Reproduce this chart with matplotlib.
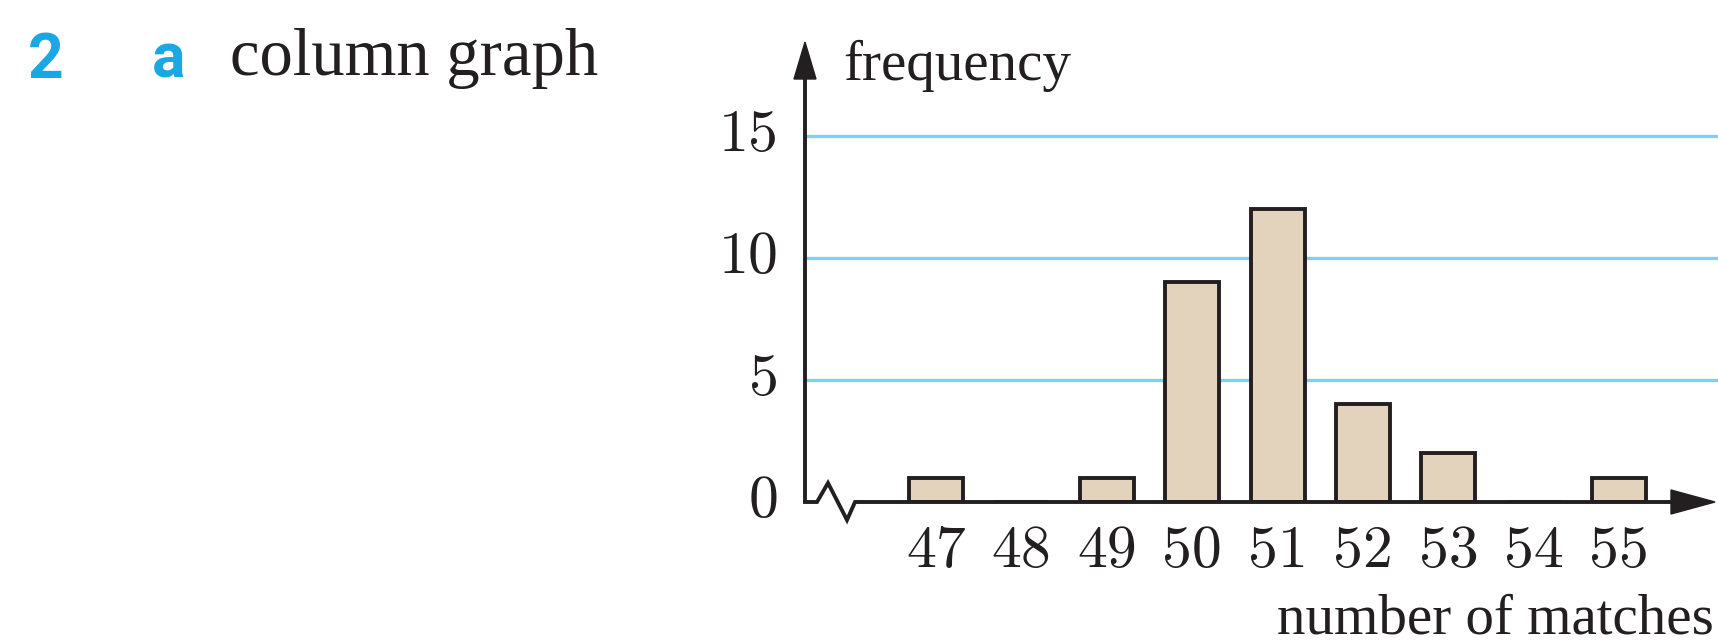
import matplotlib
matplotlib.use("Agg")
import matplotlib.pyplot as plt
from matplotlib.patches import Polygon
from matplotlib.transforms import ScaledTranslation

# Number of matches per box and how often each count occurred
matches = [47, 48, 49, 50, 51, 52, 53, 54, 55]
frequency = [1, 0, 1, 9, 12, 4, 2, 0, 1]
y_ticks = [0, 5, 10, 15]
grid_levels = [5, 10, 15]

W, H = 1718, 643
fig = plt.figure(figsize=(W / 100, H / 100), dpi=100)

# Plot area: y axis at x=805px, zero line at y=502px
x0_px, x1_px = 805, 1718
y0_px, ytop_px = 502, 42
ax = fig.add_axes([x0_px / W, (H - y0_px) / H, (x1_px - x0_px) / W, (y0_px - ytop_px) / H])

px_per_x = 85.4
px_per_y = 24.4
xmin = 47 - (936 - x0_px) / px_per_x
xmax = xmin + (x1_px - x0_px) / px_per_x
ymax = (y0_px - ytop_px) / px_per_y
ax.set_xlim(xmin, xmax)
ax.set_ylim(0, ymax)

for s in ax.spines.values():
    s.set_visible(False)

ink = "#231f20"
grid_col = "#7dd2f3"
bar_col = "#e3d2bc"
lw = 2.8

# Horizontal reference lines
for g in grid_levels:
    ax.plot([xmin, xmax], [g, g], color=grid_col, lw=2.4, zorder=1, solid_capstyle="butt")

ax.bar(matches, frequency, width=0.63, color=bar_col, edgecolor=ink, linewidth=lw, zorder=3)

# Vertical axis with arrowhead
arrow_base_y = ymax - 37 / px_per_y
ax.plot([xmin, xmin], [0, arrow_base_y], color=ink, lw=lw, zorder=4, clip_on=False,
        solid_capstyle="butt")
hw = 11 / px_per_x
ax.add_patch(Polygon([(xmin - hw, arrow_base_y), (xmin + hw, arrow_base_y), (xmin, ymax)],
                     closed=True, color=ink, zorder=5, clip_on=False))

# Horizontal axis with broken-scale zigzag and arrowhead
zx = [xmin, xmin + 12 / px_per_x, xmin + 23 / px_per_x, xmin + 42 / px_per_x, xmin + 50 / px_per_x]
zy = [0, 0, 19 / px_per_y, -18 / px_per_y, 0]
tip_x = xmin + (1715 - x0_px) / px_per_x
base_x = tip_x - 44 / px_per_x
ax.plot(zx + [base_x], zy + [0], color=ink, lw=lw, zorder=4, clip_on=False,
        solid_joinstyle="miter")
hh = 12 / px_per_y
ax.add_patch(Polygon([(base_x, -hh), (base_x, hh), (tip_x, 0)],
                     closed=True, color=ink, zorder=5, clip_on=False))

tick_font = dict(family="cmr10", size=43, color=ink)
ax.set_xticks(matches)
ax.set_xticklabels([str(m) for m in matches], **tick_font)
ax.set_yticks(y_ticks)
ax.set_yticklabels([str(t) for t in y_ticks], **tick_font)
ax.tick_params(axis="both", length=0)
ax.tick_params(axis="x", pad=17)
ax.tick_params(axis="y", pad=19)
lift = ScaledTranslation(0, 6 / 100, fig.dpi_scale_trans)
for t in ax.yaxis.get_major_ticks():
    t.label1.set_transform(t.label1.get_transform() + lift)

serif = "Liberation Serif"
fig.text(843 / W, 1 - 80 / H, "frequency", family=serif, size=41, color=ink, va="baseline", ha="left")
fig.text(1714 / W, 1 - 634 / H, "number of matches", family=serif, size=41, color=ink,
         va="baseline", ha="right")

blue = "#1aa7e6"
label_font = dict(family=["Liberation Sans Narrow", "Roboto"], weight="bold", size=45, color=blue,
                  va="baseline")
fig.text(28 / W, 1 - 78 / H, "2", **label_font)
fig.text(152 / W, 1 - 78 / H, "a", **label_font)
fig.text(230 / W, 1 - 75 / H, "column graph", family=serif, size=48, color=ink, va="baseline")

fig.savefig("out.png", dpi=100)
